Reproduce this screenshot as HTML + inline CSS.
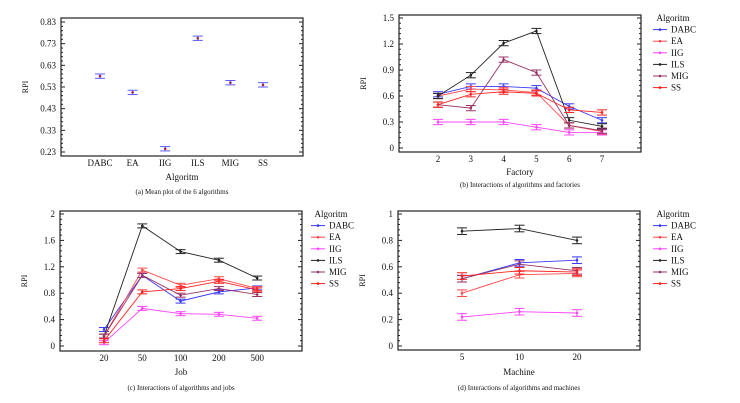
<!DOCTYPE html>
<html><head><meta charset="utf-8"><style>
html,body{margin:0;padding:0;background:#fff;width:740px;height:403px;overflow:hidden}
svg{font-family:"Liberation Serif",serif}
</style></head><body>
<svg id="s" width="740" height="403" xmlns="http://www.w3.org/2000/svg"></svg>
<script>
// Panel (a) data
const catsA = ["DABC","EA","IIG","ILS","MIG","SS"];
const valsA = [0.58,0.505,0.245,0.755,0.55,0.54];
const ticksA = [0.23,0.33,0.43,0.53,0.63,0.73,0.83];
// Shared legend
const algos = ["DABC","EA","IIG","ILS","MIG","SS"];
const colors = ["#3a3aff","#ff4a4a","#ff44ff","#222222","#993366","#ff2020"];
// Panel (b)
const catsB = ["2","3","4","5","6","7"];
const ticksB = [0,0.3,0.6,0.9,1.2,1.5];
const bDABC=[0.62,0.71,0.71,0.69,0.48,0.32];
const bEA=[0.60,0.68,0.67,0.64,0.26,0.19];
const bIIG=[0.30,0.30,0.30,0.24,0.18,0.18];
const bILS=[0.60,0.84,1.21,1.35,0.32,0.25];
const bMIG=[0.50,0.46,1.02,0.87,0.26,0.20];
const bSS=[0.50,0.62,0.65,0.63,0.44,0.41];
// Panel (c)
const catsC = ["20","50","100","200","500"];
const ticksC = [0,0.4,0.8,1.2,1.6,2];
const cDABC=[0.25,1.07,0.68,0.82,0.88];
const cEA=[0.15,1.15,0.92,1.02,0.87];
const cIIG=[0.05,0.57,0.49,0.48,0.42];
const cILS=[0.15,1.82,1.43,1.30,1.03];
const cMIG=[0.15,1.07,0.77,0.87,0.78];
const cSS=[0.08,0.82,0.87,0.98,0.85];
// Panel (d)
const catsD = ["5","10","20"];
const ticksD = [0,0.2,0.4,0.6,0.8,1];
const dDABC=[0.51,0.63,0.65];
const dEA=[0.40,0.54,0.55];
const dIIG=[0.22,0.26,0.25];
const dILS=[0.87,0.89,0.80];
const dMIG=[0.51,0.62,0.57];
const dSS=[0.53,0.57,0.56];

const S=document.getElementById('s');
const NS="http://www.w3.org/2000/svg";
function mk(tag,at,parent){const e=document.createElementNS(NS,tag);for(const k in at)e.setAttribute(k,at[k]);(parent||S).appendChild(e);return e;}
function txt(x,y,t,size,anchor,parent){const e=mk('text',{x:x,y:y,'font-size':size,'text-anchor':anchor||'middle',fill:'#111'},parent);e.textContent=t;return e;}

function panel(cfg){
  const g=mk('g',{});
  
  
  const {x0,x1,y0,y1,ymin,ymax,ty0,ty1}=cfg;
  const Y=v=>ty1+(v-ymin)/(ymax-ymin)*(ty0-ty1);
  const X=i=>cfg.cx0+i*cfg.dx;
  const box=mk('rect',{x:x0,y:y0,width:x1-x0,height:y1-y0,fill:'none',stroke:'#222','stroke-width':1.2},g);
  
  
  // ticks
  cfg.ticks.forEach((t,i)=>{
    const y=Y(t);
    mk('line',{x1:x0,x2:x0+4,y1:y,y2:y,stroke:'#222'},g);
    mk('line',{x1:x1,x2:x1-4,y1:y,y2:y,stroke:'#222'},g);
    const l=txt(x0-5,y+3,cfg.tickFmt?cfg.tickFmt(t):String(t),9,'end',g);
    
    
    if(i<cfg.ticks.length-1){const st=(cfg.ticks[i+1]-t)/5;for(let k=1;k<5;k++){const yy=Y(t+st*k);mk('line',{x1:x0,x2:x0+2,y1:yy,y2:yy,stroke:'#222'},g);mk('line',{x1:x1,x2:x1-2,y1:yy,y2:yy,stroke:'#222'},g);}}
  });
  cfg.cats.forEach((c,i)=>{
    const l=txt(X(i),y1+10,c,9,'middle',g);
    
    
  });
  const xt=txt((x0+x1)/2,cfg.xlY,cfg.xlabel,9,'middle',g);
  
  
  const yt=txt(0,0,'RPI',8,'middle',g);
  yt.setAttribute('transform',`translate(${x0-33},${(y0+y1)/2}) rotate(-90)`);
  
  
  const cp=txt((x0+x1)/2,cfg.capY,cfg.caption,7,'middle',g);
  
  
  // series
  cfg.series.forEach((vals,s)=>{
    const col=cfg.colors[s];
    const sg=mk('g',{},g);
    
    
    if(cfg.line){
      const pl=mk('polyline',{points:vals.map((v,i)=>X(i)+','+Y(v)).join(' '),fill:'none',stroke:col,'stroke-width':0.9},sg);
      
      
    }
    vals.forEach((v,i)=>{
      const e=cfg.err, x=X(i);
      const ya=Y(v+e), yb=Y(v-e);
      mk('line',{x1:x,x2:x,y1:ya,y2:yb,stroke:col,'stroke-width':0.9},sg);
      mk('line',{x1:x-5,x2:x+5,y1:ya,y2:ya,stroke:col,'stroke-width':1},sg);
      mk('line',{x1:x-5,x2:x+5,y1:yb,y2:yb,stroke:col,'stroke-width':1},sg);
      const p=mk('circle',{cx:x,cy:Y(v),r:1.3,fill:cfg.pointCol||col},sg);
      
      
    });
  });
  if(cfg.legend){
    const lg=mk('g',{},g);
    
    
    txt(cfg.legX+20,cfg.legY,'Algoritm',9,'middle',lg);
    cfg.names.forEach((n,i)=>{
      const y=cfg.legY+11.6*(i+1);
      const e=mk('g',{},lg);
      
      
      mk('line',{x1:cfg.legX,x2:cfg.legX+14,y1:y-3,y2:y-3,stroke:cfg.colors[i],'stroke-width':1},e);
      mk('circle',{cx:cfg.legX+7,cy:y-3,r:1.3,fill:cfg.colors[i]},e);
      txt(cfg.legX+18,y,n,9,'start',e);
    });
  }
}

panel({name:'panel-a-mean-plot',x0:61,x1:303,y0:18,y1:156,ymin:0.23,ymax:0.83,ty0:22,ty1:152,
  ticks:ticksA,tickFmt:t=>t.toFixed(2),cats:catsA,cx0:100,dx:32.6,xlabel:'Algoritm',xlY:180,capY:194,
  caption:'(a)  Mean plot of the 6 algorithms',series:valsA.map(v=>[v]).length?[valsA]:[],names:['mean'],
  colors:['#5a5aff'],pointCol:'#aa2244',err:0.01,line:false});
panel({name:'panel-b-factories',x0:399,x1:641,y0:15,y1:152,ymin:0,ymax:1.5,ty0:18,ty1:148,
  ticks:ticksB,cats:catsB,cx0:438,dx:32.8,xlabel:'Factory',xlY:175,capY:187,
  caption:'(b)  Interactions of algorithms and factories',series:[bDABC,bEA,bIIG,bILS,bMIG,bSS],
  names:algos,colors:colors,err:0.03,line:true,legend:true,legX:653,legY:21});
panel({name:'panel-c-jobs',x0:60,x1:302,y0:211,y1:351,ymin:0,ymax:2,ty0:214,ty1:346,
  ticks:ticksC,cats:catsC,cx0:104,dx:38.3,xlabel:'Job',xlY:375,capY:390,
  caption:'(c)  Interactions of algorithms and jobs',series:[cDABC,cEA,cIIG,cILS,cMIG,cSS],
  names:algos,colors:colors,err:0.03,line:true,legend:true,legX:311,legY:217});
panel({name:'panel-d-machines',x0:398,x1:640,y0:211,y1:350,ymin:0,ymax:1,ty0:214,ty1:346,
  ticks:ticksD,cats:catsD,cx0:462,dx:57.5,xlabel:'Machine',xlY:375,capY:390,
  caption:'(d)  Interactions of algorithms and machines',series:[dDABC,dEA,dIIG,dILS,dMIG,dSS],
  names:algos,colors:colors,err:0.025,line:true,legend:true,legX:653,legY:217});
</script>
</body></html>
